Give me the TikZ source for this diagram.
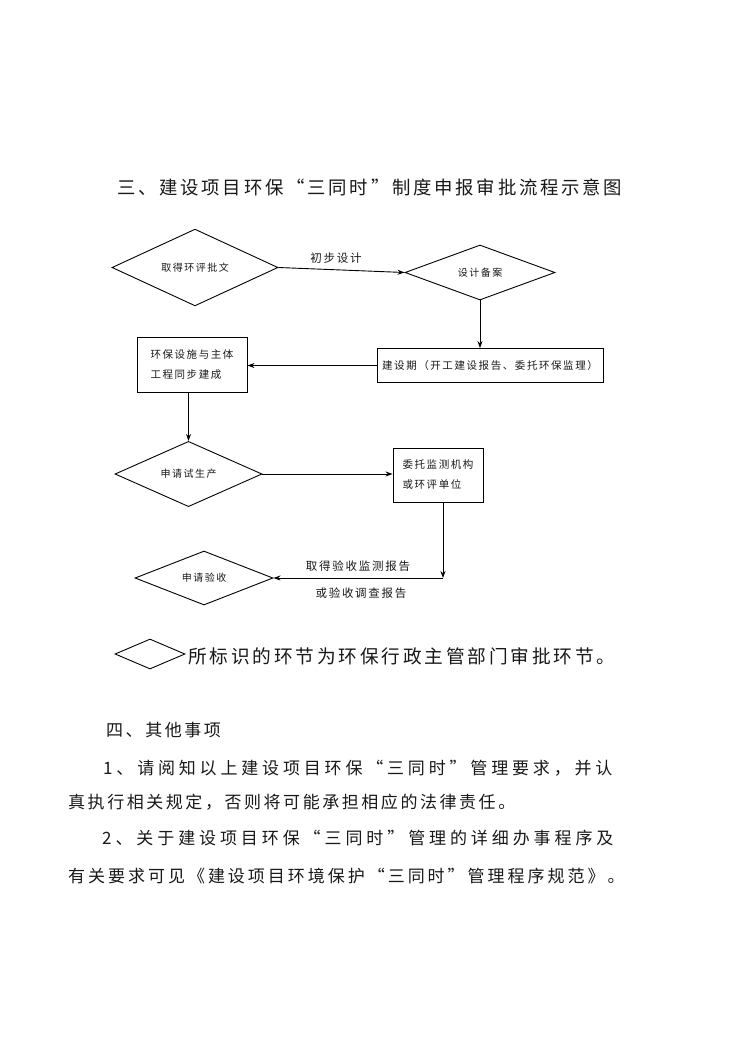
\documentclass[tikz,border=0pt]{standalone}
\usepackage{fontspec}
\newfontfamily\cjk[LetterSpace=15]{Noto Sans CJK SC}
\newfontfamily\cjkA[LetterSpace=22.5]{Noto Sans CJK SC}
\newfontfamily\cjkB[LetterSpace=23]{Noto Sans CJK SC}
\newfontfamily\cjkC[LetterSpace=17.5]{Noto Sans CJK SC}
\usetikzlibrary{shapes.geometric,arrows.meta}
\begin{document}
\begin{tikzpicture}[x=1pt,y=-1pt,
  every node/.style={font=\cjk, text=black!90},
  dia/.style={draw, diamond, inner sep=0pt, line width=0.9pt, font=\cjk\fontsize{10}{12}\selectfont},
  box/.style={draw, rectangle, inner sep=0pt, line width=0.9pt, align=left, font=\cjk\fontsize{10.5}{20}\selectfont},
  conn/.style={line width=0.9pt, -{Stealth[length=7pt,width=5pt]}},
  lbl/.style={font=\cjk\fontsize{11.5}{14}\selectfont, inner sep=0pt},
  body/.style={font=\cjk\fontsize{17}{20}\selectfont, anchor=west, inner sep=0pt}
]
\useasboundingbox (0,0) rectangle (750,1061);
\fill[white] (0,0) rectangle (750,1061);

% title
\node[font=\cjk\fontsize{18.4}{22}\selectfont, anchor=west, inner sep=0pt] (title) at (117,187) {三、建设项目环保“三同时”制度申报审批流程示意图};

% flowchart nodes
\node[dia, minimum width=166pt, minimum height=55pt] (d1) at (195,267.5) {取得环评批文};
\node[dia, minimum width=150pt, minimum height=55pt] (d2) at (480,272.5) {设计备案};
\node[box, minimum width=226pt, minimum height=34pt] (b2) at (490,365.5) {建设期（开工建设报告、委托环保监理）};
\node[box, minimum width=110pt, minimum height=55pt] (b1) at (192,364.5) {环保设施与主体\\工程同步建成};
\node[dia, minimum width=147pt, minimum height=54pt] (d3) at (188.5,474) {申请试生产};
\node[box, minimum width=90pt, minimum height=54pt] (b3) at (438,475) {委托监测机构\\或环评单位};
\node[dia, minimum width=138pt, minimum height=54pt] (d4) at (204,578) {申请验收};
\coordinate (c1) at (443,578);

% connectors
\draw[conn] (d1.east) -- (d2.west);
\node[lbl] (l1) at (336,258) {初步设计};
\draw[conn] (d2.south) -- (b2.north -| d2.south);
\draw[conn] (b2.west) -- (b2.west -| b1.east);
\draw[conn] (b1.south -| d3.north) -- (d3.north);
\draw[conn] (d3.east) -- (d3.east -| b3.west);
\draw[conn] (b3.south -| c1) -- (c1);
\draw[conn] (c1) -- (d4.east);
\node[lbl] (l2) at (358,566) {取得验收监测报告};
\node[lbl] (l3) at (361,593) {或验收调查报告};

% legend
\node[draw, diamond, inner sep=0pt, line width=0.9pt, minimum width=70pt, minimum height=30pt] (lg) at (150,654) {};
\node[font=\cjk\fontsize{18.7}{20}\selectfont, anchor=west, inner sep=0pt] (lgt) at (188,656) {所标识的环节为环保行政主管部门审批环节。};

% section four
\node[body] (s4) at (106,730) {四、其他事项};
\node[body, font=\cjkA\fontsize{17}{20}\selectfont] (p1) at (103,768) {1、请阅知以上建设项目环保“三同时”管理要求，并认};
\node[body] (p2) at (68,802) {真执行相关规定，否则将可能承担相应的法律责任。};
\node[body, font=\cjkB\fontsize{17}{20}\selectfont] (p3) at (102,838) {2、关于建设项目环保“三同时”管理的详细办事程序及};
\node[body, font=\cjkC\fontsize{17}{20}\selectfont] (p4) at (68,876) {有关要求可见《建设项目环境保护“三同时”管理程序规范》。};
\end{tikzpicture}
\end{document}
